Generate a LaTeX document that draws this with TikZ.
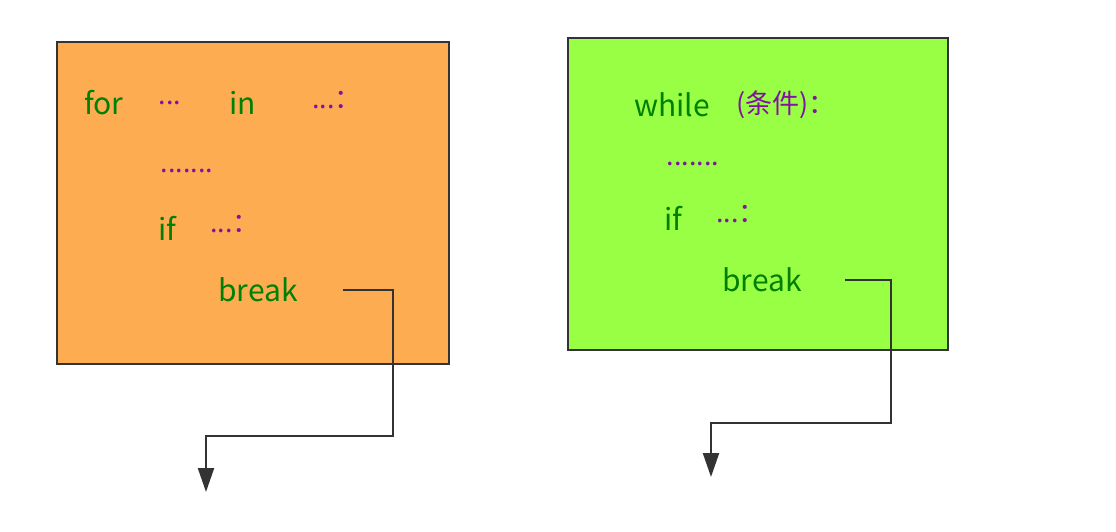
\documentclass[tikz,border=0pt]{standalone}
\usepackage{fontspec}
\setmainfont{Noto Sans CJK SC}
\usetikzlibrary{arrows.meta}
\definecolor{kw}{RGB}{0,128,0}
\definecolor{pu}{RGB}{128,20,160}
\definecolor{orangebox}{RGB}{253,172,82}
\definecolor{greenbox}{RGB}{153,255,68}
\tikzset{
  box/.style={draw=black!80,line width=2.2pt},
  kwt/.style={text=kw,font=\fontsize{30}{34}\selectfont,inner sep=0},
  put/.style={text=pu,font=\fontsize{27}{30}\selectfont,inner sep=0},
  jump/.style={draw=black!80,line width=2.2pt,-{Triangle[length=24pt,width=16pt]}}
}
\begin{document}
\begin{tikzpicture}[x=1pt,y=-1pt]
\useasboundingbox (0,0) rectangle (1116,532);
\fill[white] (0,0) rectangle (1116,532);
\draw[box,fill=orangebox] (57,42) rectangle (449,364);
\draw[box,fill=greenbox] (568,38) rectangle (948,350);
% left
\node[kwt] (for) at (104,103) {for};
\node[put] (d1) at (170,103) {...};
\node[kwt] (in) at (243,103) {in};
\node[put] (d2) at (337,100) {...：};
\node[put] (d3) at (187,171) {.......};
\node[kwt] (if1) at (167,228) {if};
\node[put] (d4) at (235,224) {...：};
\node[kwt] (br1) at (258,290) {break};
\coordinate (s1) at (343,290);
\coordinate (e1) at (206,492);
\draw[jump] (s1) -- (393,290) -- (393,436) -- (206,436) -- (e1);
% right
\node[kwt] (wh) at (672,105) {while};
\node[put] (cond) at (786,105) {(条件)：};
\node[put] (d5) at (693,164) {.......};
\node[kwt] (if2) at (673,218) {if};
\node[put] (d6) at (741,214) {...：};
\node[kwt] (br2) at (762,280) {break};
\coordinate (s2) at (845,280);
\coordinate (e2) at (711,477);
\draw[jump] (s2) -- (891,280) -- (891,423) -- (711,423) -- (e2);
\end{tikzpicture}
\end{document}
